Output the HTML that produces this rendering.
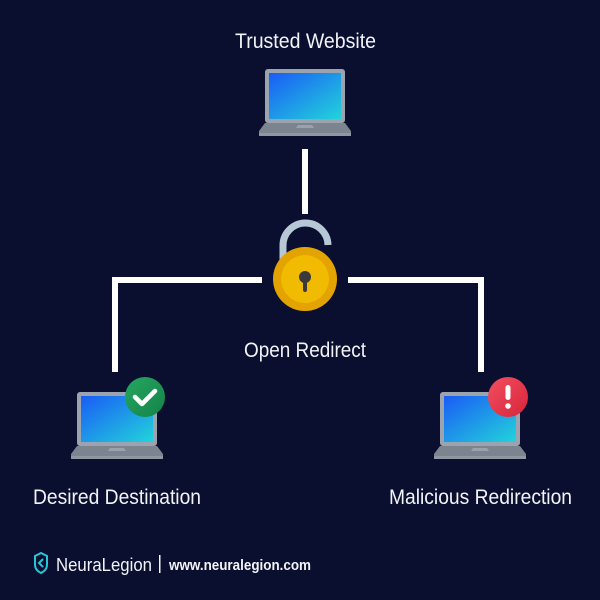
<!DOCTYPE html>
<html><head><meta charset="utf-8"><style>html,body{margin:0;padding:0;background:#0a0f2f}svg{display:block}</style></head>
<body>
<svg width="600" height="600" viewBox="0 0 600 600" xmlns="http://www.w3.org/2000/svg">
<defs>
<linearGradient id="scr" x1="0" y1="0" x2="1" y2="1">
<stop offset="0" stop-color="#1a5cf5"/><stop offset="1" stop-color="#22d3db"/>
</linearGradient>
<linearGradient id="grn" x1="0" y1="0" x2="1" y2="1"><stop offset="0" stop-color="#27a660"/><stop offset="1" stop-color="#138348"/></linearGradient>
<linearGradient id="red" x1="0" y1="0" x2="1" y2="1"><stop offset="0" stop-color="#f25060"/><stop offset="1" stop-color="#d8243a"/></linearGradient>
<g id="lap">
<rect x="0" y="0" width="80" height="54" rx="3" fill="#9ba4ae"/>
<rect x="4" y="4" width="72" height="46" fill="url(#scr)"/>
<path d="M0 54 H80 L86 62 V67 H-6 V62 Z" fill="#7c858f"/>
<path d="M-6 64 H86 V66 Q86 67 85 67 H-5 Q-6 67 -6 66 Z" fill="#8e98a2"/>
<path d="M33 56 H47 L49 59 H31 Z" fill="#9aa3ad"/>
</g>
</defs>
<rect width="600" height="600" fill="#0a0f2f"/>
<g font-family="'Liberation Sans', sans-serif" fill="#f2f3f6" font-size="21">
<text x="235" y="48" textLength="141" lengthAdjust="spacingAndGlyphs">Trusted Website</text>
<text x="244" y="357" textLength="122" lengthAdjust="spacingAndGlyphs">Open Redirect</text>
<text x="33" y="504" textLength="168" lengthAdjust="spacingAndGlyphs">Desired Destination</text>
<text x="389" y="504" textLength="183" lengthAdjust="spacingAndGlyphs">Malicious Redirection</text>
</g>
<use href="#lap" x="265" y="69"/>
<use href="#lap" x="77" y="392"/>
<use href="#lap" x="440" y="392"/>
<g fill="#fff">
<rect x="302" y="149" width="6" height="65"/>
<rect x="112" y="277" width="150" height="6"/>
<rect x="112" y="277" width="6" height="95"/>
<rect x="348" y="277" width="136" height="6"/>
<rect x="478" y="277" width="6" height="95"/>
</g>
<path d="M283 260 V246 A22 22 0 0 1 328 245" fill="none" stroke="#b8c7d6" stroke-width="7"/>
<circle cx="305" cy="279" r="32" fill="#e3a300"/>
<circle cx="305" cy="279" r="24" fill="#f0bb00"/>
<circle cx="305" cy="277" r="6" fill="#3a3a3a"/>
<rect x="303" y="278" width="4" height="14" rx="2" fill="#3a3a3a"/>
<circle cx="145" cy="397" r="20" fill="url(#grn)"/>
<path d="M135 397 L142 404 L155 391" fill="none" stroke="#fff" stroke-width="4.5" stroke-linecap="round" stroke-linejoin="round"/>
<circle cx="508" cy="397" r="20" fill="url(#red)"/>
<rect x="505.5" y="385" width="5" height="15" rx="2.5" fill="#fff"/>
<circle cx="508" cy="406" r="2.8" fill="#fff"/>
<path d="M35 556 L41 553 L47 556 V565 Q47 570 41 573 Q35 570 35 565 Z" fill="none" stroke="#26c6d6" stroke-width="2"/>
<path d="M43 559 L39 563 L43 567" fill="none" stroke="#26c6d6" stroke-width="2"/>
<g font-family="'Liberation Sans', sans-serif" fill="#f2f3f6">
<text x="56" y="571" font-size="18" textLength="96" lengthAdjust="spacingAndGlyphs">NeuraLegion</text>
<rect x="159" y="555" width="1.5" height="18"/>
<text x="169" y="570" font-size="15" font-weight="bold" textLength="142" lengthAdjust="spacingAndGlyphs">www.neuralegion.com</text>
</g>
</svg>
</body></html>
